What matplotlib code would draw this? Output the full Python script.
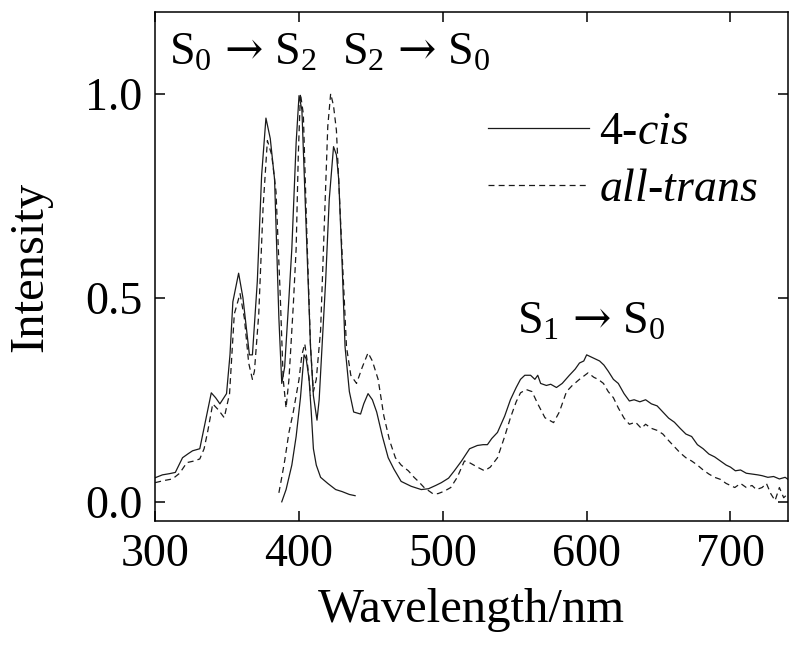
import matplotlib
matplotlib.use("Agg")
import matplotlib.pyplot as plt

plt.rcParams['font.family'] = ['Liberation Serif', 'DejaVu Serif']
plt.rcParams['mathtext.fontset'] = 'custom'
plt.rcParams['mathtext.rm'] = 'Liberation Serif'
plt.rcParams['mathtext.it'] = 'Liberation Serif:italic'
plt.rcParams['mathtext.bf'] = 'DejaVu Serif'
plt.rcParams['lines.scale_dashes'] = False

# 4-cis (solid): absorption + S2 emission + S1 emission
cis_wl = [300, 305, 310, 314, 319, 323, 326, 331, 334.5, 339, 342, 345, 349.6, 352, 354, 358,
          361, 365.5, 367.6, 371, 374, 377, 380, 383, 386, 388, 390, 393, 395, 398, 400, 402,
          405.5, 408, 410, 412.5, 414, 416, 418.5, 421, 424, 426, 427.6, 430, 432, 435, 438,
          442.8, 445, 448, 451, 454, 458, 462, 466, 471, 478, 485, 490, 495, 499, 504, 508,
          513, 518.6, 524, 528, 531, 534, 538, 543, 547, 551, 554, 557, 561, 564, 566, 568,
          572, 575, 579, 583, 588, 592, 595, 598, 600, 603, 606, 609, 612, 615, 618.6, 622,
          626, 629.7, 633, 637, 641, 645, 649, 653, 657, 661, 665, 669, 673, 677, 681, 685,
          689, 693, 697, 700, 703.4, 707, 711, 715, 719, 722, 726, 730, 734, 738, 740]
cis_int = [0.059, 0.066, 0.069, 0.072, 0.108, 0.118, 0.125, 0.13, 0.19, 0.267, 0.255, 0.24, 0.265,
           0.36, 0.49, 0.56, 0.50, 0.36, 0.36, 0.54, 0.80, 0.94, 0.89, 0.79, 0.45, 0.29, 0.33,
           0.50, 0.62, 0.88, 0.995, 0.96, 0.62, 0.38, 0.26, 0.20, 0.25, 0.38, 0.54, 0.74, 0.87,
           0.85, 0.79, 0.58, 0.38, 0.27, 0.22, 0.215, 0.24, 0.265, 0.25, 0.22, 0.16, 0.108,
           0.08, 0.05, 0.038, 0.03, 0.032, 0.04, 0.047, 0.058, 0.076, 0.10, 0.13, 0.138, 0.14,
           0.14, 0.155, 0.17, 0.21, 0.25, 0.28, 0.30, 0.31, 0.31, 0.30, 0.31, 0.29, 0.285,
           0.288, 0.28, 0.29, 0.31, 0.325, 0.34, 0.345, 0.36, 0.355, 0.35, 0.345, 0.335, 0.32,
           0.30, 0.29, 0.265, 0.247, 0.25, 0.245, 0.25, 0.24, 0.235, 0.22, 0.205, 0.195, 0.18,
           0.166, 0.16, 0.14, 0.13, 0.117, 0.11, 0.10, 0.09, 0.085, 0.076, 0.078, 0.07, 0.068,
           0.066, 0.064, 0.06, 0.062, 0.056, 0.06, 0.055]

# all-trans (dashed)
trans_wl = [300, 306, 312, 317, 322, 327, 331, 334, 336.6, 340, 344, 348, 351.7, 355, 359, 362,
            365, 367.6, 369, 372, 375, 378, 381, 384, 387, 389, 391, 393, 396, 398, 399.5, 401,
            403, 405.5, 408, 410, 412, 415, 418, 420, 422, 424, 426, 429, 433, 436, 440, 444,
            448, 451, 455, 459, 463, 467, 471, 476, 480, 483, 487, 493, 496.6, 501, 505.5, 510,
            515, 519, 524, 529, 533, 538, 543, 547, 551, 554, 558, 562, 566, 571, 574, 577, 581,
            586, 590, 595, 601, 605, 608, 611.7, 615, 618.6, 622, 626, 629.7, 634, 638, 641,
            645, 649, 653, 657, 661, 665, 669, 673, 677, 681, 685, 689, 693, 697, 700, 703, 707,
            711, 715, 718, 722, 725, 728, 731, 734, 737, 740]
trans_int = [0.047, 0.052, 0.056, 0.07, 0.096, 0.10, 0.105, 0.13, 0.174, 0.24, 0.225, 0.206,
             0.265, 0.46, 0.51, 0.45, 0.34, 0.30, 0.32, 0.46, 0.72, 0.885, 0.85, 0.76, 0.50,
             0.30, 0.23, 0.30, 0.48, 0.62, 0.85, 1.0, 0.95, 0.65, 0.38, 0.27, 0.30, 0.42, 0.72,
             0.92, 1.0, 0.97, 0.91, 0.68, 0.38, 0.31, 0.29, 0.33, 0.365, 0.345, 0.30, 0.21, 0.15,
             0.108, 0.09, 0.076, 0.06, 0.05, 0.035, 0.02, 0.02, 0.026, 0.035, 0.06, 0.10, 0.095,
             0.085, 0.076, 0.085, 0.108, 0.16, 0.206, 0.245, 0.267, 0.275, 0.27, 0.24, 0.206,
             0.20, 0.194, 0.22, 0.27, 0.285, 0.30, 0.316, 0.305, 0.30, 0.29, 0.27, 0.255, 0.23,
             0.205, 0.19, 0.195, 0.18, 0.19, 0.18, 0.175, 0.166, 0.15, 0.135, 0.12, 0.108, 0.10,
             0.09, 0.078, 0.068, 0.06, 0.055, 0.045, 0.04, 0.035, 0.045, 0.035, 0.04, 0.03,
             0.035, 0.045, 0.02, 0.003, 0.035, 0.01, 0.02]

# excitation peaks near 400 nm
exc_cis_wl = [388, 391, 395, 398, 401, 403.5, 405, 407, 408.5, 410, 412, 415, 420, 425.5, 430, 435, 439]
exc_cis_int = [0.0, 0.03, 0.09, 0.16, 0.255, 0.36, 0.35, 0.30, 0.22, 0.13, 0.09, 0.06, 0.045,
               0.03, 0.025, 0.018, 0.015]
exc_trans_wl = [386, 388, 390, 393, 396, 400, 402, 404, 405.5, 407, 408]
exc_trans_int = [0.022, 0.06, 0.10, 0.17, 0.22, 0.30, 0.36, 0.387, 0.35, 0.30, 0.26]

fs = 33
col = '#1a1a1a'
dash = (4.3, 3.0)

fig = plt.figure(figsize=(8, 6.46), dpi=100)
ax = fig.add_axes([0.194, 0.1935, 0.791, 0.788])

l1, = ax.plot(cis_wl, cis_int, color=col, lw=0.9)
ax.plot(exc_cis_wl, exc_cis_int, color=col, lw=0.9)
l2, = ax.plot(trans_wl, trans_int, color=col, lw=0.9, linestyle=(0, dash))
ax.plot(exc_trans_wl, exc_trans_int, color=col, lw=0.9, linestyle=(0, dash))

ax.set_xlim(300, 740)
ax.set_ylim(-0.047, 1.2)
ax.set_xticks([300, 400, 500, 600, 700])
ax.set_yticks([0.0, 0.5, 1.0])
ax.set_yticklabels(['0.0', '0.5', '1.0'])
ax.tick_params(direction='in', length=7, width=1.1, top=True, right=True,
               labelsize=fs, pad=9)
for s in ax.spines.values():
    s.set_linewidth(1.1)

ax.set_xlabel('Wavelength/nm', fontsize=35, labelpad=9)
ax.set_ylabel('Intensity', fontsize=35, labelpad=24)

arrow = r'\,\mathbf{\rightarrow}\,'
ax.text(309.7, 1.07, r'S$_0' + arrow + r'$S$_2$', fontsize=fs, ha='left', va='baseline')
ax.text(429.9, 1.07, r'S$_2' + arrow + r'$S$_0$', fontsize=fs, ha='left', va='baseline')
ax.text(551.4, 0.413, r'S$_1' + arrow + r'$S$_0$', fontsize=fs, ha='left', va='baseline')

ax.legend([l1, l2], [r'4-$\mathit{cis}$', r'$\mathit{all}$-$\mathit{trans}$'],
          loc='upper left', bbox_to_anchor=(0.526, 0.805), frameon=False,
          fontsize=fs, handlelength=2.2, handletextpad=0.22, labelspacing=0.32,
          borderpad=0, borderaxespad=0)

fig.savefig('out.png', dpi=100)
